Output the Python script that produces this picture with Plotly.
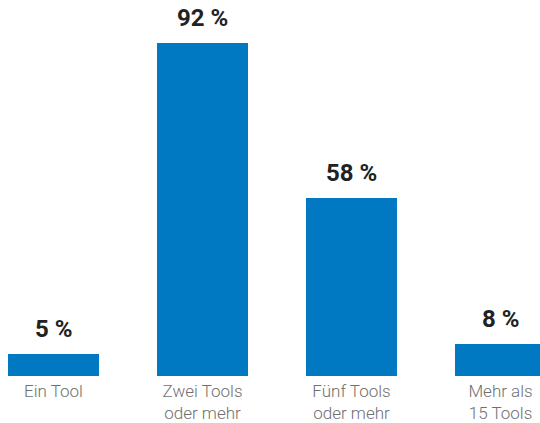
import plotly.graph_objects as go

categories = ["Ein Tool", "Zwei Tools<br>oder mehr", "Fünf Tools<br>oder mehr", "Mehr als<br>15 Tools"]
# bar heights as drawn in the picture (in percent-scale units)
bar_heights = [6, 92, 49.2, 8.8]
value_labels = ["5 %", "92 %", "58 %", "8 %"]

fig = go.Figure()
fig.add_trace(go.Bar(
    x=categories, y=bar_heights,
    marker=dict(color="#0079C2", line=dict(width=0)),
    width=0.611,
    hoverinfo="skip",
))
for c, h, t in zip(categories, bar_heights, value_labels):
    fig.add_annotation(
        x=c, y=h, text=t, showarrow=False, yanchor="bottom",
        yshift=9,
        font=dict(family="Roboto, Arial, sans-serif", size=24, color="#222222", weight="bold"),
    )

fig.update_layout(
    width=540, height=423,
    margin=dict(l=0, r=0, t=0, b=45),
    paper_bgcolor="white", plot_bgcolor="white",
    showlegend=False,
    bargap=0,
    xaxis=dict(
        range=[-0.359, 3.265],
        showgrid=False, zeroline=False, showline=False, ticks="",
        tickfont=dict(family="Roboto, Arial, sans-serif", size=17, color="#707070", weight=300),
        ticklabelstandoff=3,
    ),
    yaxis=dict(
        range=[0, 103.8],
        visible=False,
    ),
)

fig.write_html("out.html")
